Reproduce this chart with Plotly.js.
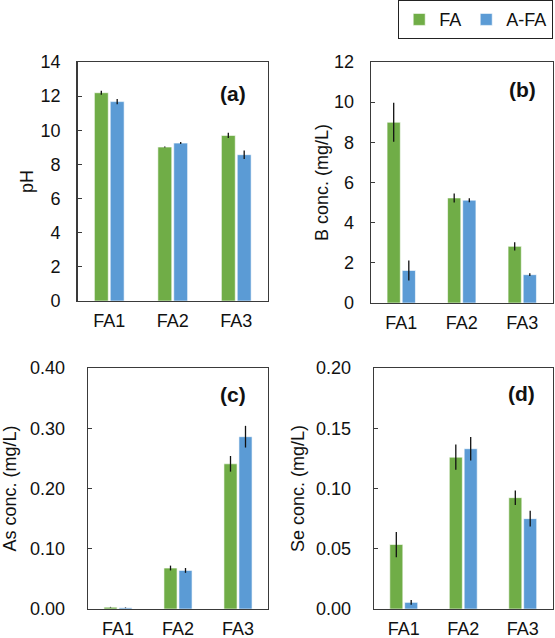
<!DOCTYPE html>
<html>
<head>
<meta charset="utf-8">
<script src="https://cdn.plot.ly/plotly-3.0.1.min.js"></script>
<style>html,body{margin:0;padding:0;background:#fff;}#chart{width:555px;height:638px;}</style>
</head>
<body>
<div id="chart"></div>
<script>
const categories = ["FA1", "FA2", "FA3"];
const seriesNames = ["FA", "A-FA"];

// (a) pH
const phFA = [12.2, 9.02, 9.7];
const phFAErr = [0.12, 0.03, 0.15];
const phAFA = [11.68, 9.25, 8.57];
const phAFAErr = [0.15, 0.06, 0.25];

// (b) B conc. (mg/L)
const bFA = [9.0, 5.23, 2.82];
const bFAErr = [0.97, 0.22, 0.2];
const bAFA = [1.62, 5.12, 1.41];
const bAFAErr = [0.5, 0.1, 0.07];

// (c) As conc. (mg/L)
const asFA = [0.003, 0.068, 0.241];
const asFAErr = [0.0005, 0.004, 0.013];
const asAFA = [0.002, 0.064, 0.286];
const asAFAErr = [0.0005, 0.004, 0.018];

// (d) Se conc. (mg/L)
const seFA = [0.0535, 0.126, 0.0924];
const seFAErr = [0.0105, 0.0105, 0.006];
const seAFA = [0.0055, 0.133, 0.075];
const seAFAErr = [0.002, 0.0097, 0.0065];

const panelLabels = ["(a)", "(b)", "(c)", "(d)"];
const yTitles = ["pH", "B conc. (mg/L)", "As conc. (mg/L)", "Se conc. (mg/L)"];

const green = "#70AD47";
const blue = "#5B9BD5";
const font = "Liberation Sans, Arial, sans-serif";
const txt = "#111111";
const frame = "#3a3a3a";

function bar(name, y, err, color, idx, show) {
  const sfx = idx === 1 ? "" : String(idx);
  return {
    type: "bar", name: name, x: categories, y: y,
    xaxis: "x" + sfx, yaxis: "y" + sfx,
    marker: {color: color, line: {color: "rgba(255,255,255,0.6)", width: 1}},
    error_y: {type: "data", array: err, visible: true, color: "#111", thickness: 1.3, width: 0},
    showlegend: show, legendgroup: name
  };
}

const data = [
  bar(seriesNames[0], phFA, phFAErr, green, 1, true),
  bar(seriesNames[1], phAFA, phAFAErr, blue, 1, true),
  bar(seriesNames[0], bFA, bFAErr, green, 2, false),
  bar(seriesNames[1], bAFA, bAFAErr, blue, 2, false),
  bar(seriesNames[0], asFA, asFAErr, green, 3, false),
  bar(seriesNames[1], asAFA, asAFAErr, blue, 3, false),
  bar(seriesNames[0], seFA, seFAErr, green, 4, false),
  bar(seriesNames[1], seAFA, seAFAErr, blue, 4, false)
];

const W = 555, H = 638;
const dom = [
  {x: [77.5, 268], y: [62, 301], lx: 0.895, ly: 0.87, tls: 12, ts: 2},
  {x: [371, 552.5], y: [62, 303], lx: 0.92, ly: 0.884, tls: 12, ts: 0},
  {x: [88, 268], y: [368, 609], lx: 0.89, ly: 0.888, tls: 18, ts: 9},
  {x: [374, 552.5], y: [368, 609], lx: 0.913, ly: 0.896, tls: 18, ts: 6}
];
const yRanges = [[0, 14], [0, 12], [0, 0.4], [0, 0.2]];
const yDticks = [2, 2, 0.1, 0.05];
const yFormats = ["d", "d", ".2f", ".2f"];

const layout = {
  width: W, height: H,
  margin: {l: 0, r: 0, t: 0, b: 0},
  paper_bgcolor: "#fff", plot_bgcolor: "#fff",
  font: {family: font, size: 18, color: txt},
  barmode: "group", bargap: 0.5, bargroupgap: 0.125,
  showlegend: true,
  legend: {
    orientation: "h", x: 553 / W, xanchor: "right", y: 1, yanchor: "top",
    bordercolor: "#222", borderwidth: 1.2, bgcolor: "#fff",
    font: {family: font, size: 18, color: txt}, itemwidth: 30, traceorder: "normal"
  },
  annotations: []
};

dom.forEach((d, i) => {
  const sfx = i === 0 ? "" : String(i + 1);
  layout["xaxis" + sfx] = {
    domain: [d.x[0] / W, d.x[1] / W],
    anchor: "y" + sfx,
    showline: true, mirror: true, linecolor: frame, linewidth: 1.3,
    ticks: "", showgrid: false, zeroline: false,
    ticklabelstandoff: 3,
    tickfont: {family: font, size: 18, color: txt},
    fixedrange: true
  };
  layout["yaxis" + sfx] = {
    domain: [1 - d.y[1] / H, 1 - d.y[0] / H],
    anchor: "x" + sfx,
    range: yRanges[i], dtick: yDticks[i], tick0: 0, tickformat: yFormats[i],
    showline: true, mirror: true, linecolor: frame, linewidth: 1.3,
    ticks: "inside", ticklen: 4, tickcolor: frame, tickwidth: 1,
    showgrid: false, zeroline: false,
    ticklabelstandoff: d.tls,
    tickfont: {family: font, size: 18, color: txt},
    title: {text: yTitles[i], font: {family: font, size: 18, color: txt}, standoff: d.ts},
    fixedrange: true
  };
  layout.annotations.push({
    text: "<b>" + panelLabels[i] + "</b>",
    xref: "x" + sfx + " domain", yref: "y" + sfx + " domain",
    x: d.lx, y: d.ly, xanchor: "right", yanchor: "middle",
    showarrow: false, font: {family: font, size: 21, color: txt}
  });
});

Plotly.newPlot("chart", data, layout, {displayModeBar: false, staticPlot: true});
</script>
</body>
</html>
